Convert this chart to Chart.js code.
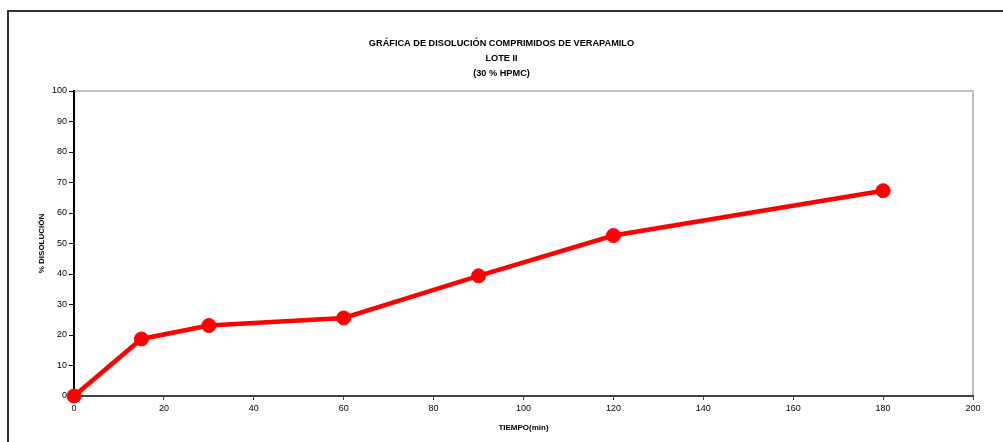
<!DOCTYPE html>
<html>
<head>
<meta charset="utf-8">
<script src="https://cdn.jsdelivr.net/npm/chart.js@4"></script>
<style>
  html, body { margin: 0; padding: 0; background: #fff; }
  canvas { display: block; }
</style>
</head>
<body>
<canvas id="c" width="1003" height="442"></canvas>
<script>
// Dissolution profile, lot II (30 % HPMC)
const tiempo = [0, 15, 30, 60, 90, 120, 180];              // min
const disolucion = [0, 18.7, 23.1, 25.6, 39.4, 52.6, 67.3]; // %
const tituloLineas = [
  'GRÁFICA DE DISOLUCIÓN COMPRIMIDOS DE VERAPAMILO',
  'LOTE II',
  '(30 % HPMC)'
];
const ejeX = 'TIEMPO(min)';
const ejeY = '% DISOLUCIÓN';

const narrow = '"Liberation Sans Narrow", "Arial Narrow", "Liberation Sans", Arial, sans-serif';
const sans = '"Liberation Sans", Arial, sans-serif';

// Page frame plus the grey top/right edges of the plot area
const marco = {
  id: 'marco',
  beforeDraw(chart) {
    const ctx = chart.ctx;
    const a = chart.chartArea;
    ctx.save();
    ctx.strokeStyle = '#333';
    ctx.lineWidth = 2;
    ctx.beginPath();
    ctx.moveTo(8, 442);
    ctx.lineTo(8, 11);
    ctx.lineTo(1003, 11);
    ctx.stroke();
    ctx.strokeStyle = '#c0c0c0';
    ctx.beginPath();
    ctx.moveTo(a.left, a.top);
    ctx.lineTo(a.right, a.top);
    ctx.lineTo(a.right, a.bottom);
    ctx.stroke();
    ctx.restore();
  }
};

new Chart(document.getElementById('c'), {
  type: 'line',
  data: {
    datasets: [{
      data: tiempo.map((t, i) => ({ x: t, y: disolucion[i] })),
      borderColor: '#ff0000',
      backgroundColor: '#ff0000',
      borderWidth: 4.5,
      pointRadius: 7,
      pointBorderWidth: 1,
      pointBorderColor: '#ff0000',
      pointBackgroundColor: '#ff0000',
      tension: 0,
      clip: false,
      yAxisID: 'y'
    }]
  },
  options: {
    responsive: false,
    animation: false,
    layout: { padding: 0 },
    plugins: {
      legend: { display: false },
      tooltip: { enabled: false },
      title: {
        display: true,
        text: tituloLineas,
        color: '#000',
        font: { family: narrow, size: 9.2, weight: 'bold', lineHeight: '15px' },
        padding: { top: 36, bottom: 10 }
      }
    },
    scales: {
      x: {
        type: 'linear',
        min: 0,
        max: 200,
        afterFit(s) { s.height = 46; },
        ticks: {
          stepSize: 20,
          color: '#000',
          font: { family: sans, size: 9 },
          padding: 3,
          maxRotation: 0
        },
        grid: { drawOnChartArea: false, drawTicks: true, tickLength: 4, color: '#444' },
        border: { color: '#444', width: 2 },
        title: {
          display: true,
          text: ejeX,
          color: '#000',
          font: { family: narrow, size: 8, weight: 'bold' },
          padding: { top: 4, bottom: 9 }
        }
      },
      y: {
        min: 0,
        max: 100,
        afterFit(s) { s.width = 74; },
        ticks: {
          stepSize: 10,
          color: '#000',
          font: { family: sans, size: 9 },
          padding: 2
        },
        grid: { drawOnChartArea: false, drawTicks: true, tickLength: 5, color: '#000' },
        border: { color: '#000', width: 2 },
        title: {
          display: true,
          text: ejeY,
          color: '#000',
          font: { family: narrow, size: 8, weight: 'bold' },
          padding: { top: 37, bottom: 0 }
        }
      },
      // empty margin strip on the right side of the plot
      margen: {
        position: 'right',
        min: 0,
        max: 1,
        afterFit(s) { s.width = 30; },
        ticks: { display: false },
        grid: { display: false },
        border: { display: false }
      }
    }
  },
  plugins: [marco]
});
</script>
</body>
</html>
